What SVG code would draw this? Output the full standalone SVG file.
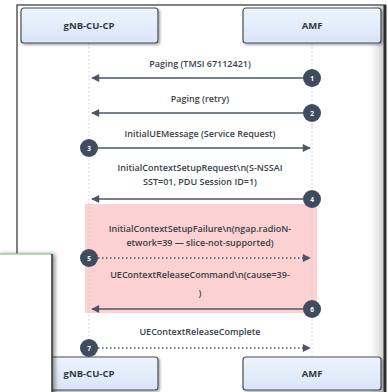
<svg xmlns="http://www.w3.org/2000/svg" width="388" height="392" viewBox="0 0 388 392">
<defs>
<linearGradient id="boxg" x1="0" y1="0" x2="0" y2="1">
<stop offset="0" stop-color="#eef4fd"/>
<stop offset="1" stop-color="#d8e5f8"/>
</linearGradient>
<linearGradient id="rshade" x1="0" y1="0" x2="1" y2="0">
<stop offset="0" stop-color="#ffffff" stop-opacity="0"/>
<stop offset="1" stop-color="#bdbdbd" stop-opacity="0.8"/>
</linearGradient>
<filter id="sh" x="-10%" y="-10%" width="130%" height="130%">
<feDropShadow dx="1.5" dy="1.5" stdDeviation="1.2" flood-color="#000" flood-opacity="0.35"/>
</filter>
<filter id="sh2" x="-20%" y="-10%" width="150%" height="130%">
<feDropShadow dx="3" dy="0" stdDeviation="2" flood-color="#000" flood-opacity="0.45"/>
</filter>
<marker id="ah" viewBox="0 0 10 10" refX="9" refY="5" markerWidth="9" markerHeight="8" markerUnits="userSpaceOnUse" orient="auto">
<path d="M0,0 L10,5 L0,10 z" fill="#4b5568"/>
</marker>
<style>
.frame{fill:#ffffff;stroke:#5a5a5a;stroke-width:1.5}
.pbox{fill:url(#boxg);stroke:#4a4f57;stroke-width:1.2}
.ptext{font-family:"Open Sans","Noto Sans",sans-serif;font-size:9.5px;font-weight:700;fill:#333a44;text-anchor:middle}
.life{stroke:#cfcfcf;stroke-width:1;stroke-dasharray:1.5 2.5}
.msg{stroke:#4b5568;stroke-width:1.6;fill:none}
.dash{stroke:#4b5568;stroke-width:1.6;stroke-dasharray:1.5 2.5;fill:none}
.lbl{font-family:"Open Sans","Noto Sans",sans-serif;font-size:9px;font-weight:600;fill:#3a3f48;text-anchor:middle}
.num{fill:#3f4b5e}
.numt{font-family:"Open Sans","Noto Sans",sans-serif;font-size:6.5px;font-weight:700;fill:#ffffff;text-anchor:middle}
</style>
</defs>
<rect x="0" y="0" width="388" height="392" fill="#ffffff"/>
<g id="frame">
<rect class="frame" x="17" y="5" width="368" height="400"/>
<rect x="366" y="6" width="18" height="392" fill="url(#rshade)"/>
<line x1="385" y1="5" x2="385" y2="392" stroke="#2e2e2e" stroke-width="3"/>
</g>
<g id="region">
<rect x="85" y="204" width="232" height="109" fill="#fbd1d1"/>
</g>
<g id="lifelines">
<line class="life" x1="89" y1="43" x2="89" y2="357"/>
<line class="life" x1="312" y1="43" x2="312" y2="357"/>
</g>
<g id="gnb-top">
<rect class="pbox" x="21" y="8" width="137" height="35" rx="3" filter="url(#sh)"/>
<text class="ptext" x="89" y="29">gNB-CU-CP</text>
</g>
<g id="amf-top">
<rect class="pbox" x="243" y="8" width="138" height="35" rx="3" filter="url(#sh)"/>
<text class="ptext" x="312" y="29">AMF</text>
</g>
<g id="gnb-bottom">
<rect class="pbox" x="21" y="357" width="137" height="33" rx="3" filter="url(#sh)"/>
<text class="ptext" x="89" y="377">gNB-CU-CP</text>
</g>
<g id="amf-bottom">
<rect class="pbox" x="243" y="357" width="138" height="33" rx="3" filter="url(#sh)"/>
<text class="ptext" x="312" y="377">AMF</text>
</g>
<g id="connectors">
<line class="msg" x1="303" y1="78" x2="92" y2="78" marker-end="url(#ah)"/>
<line class="msg" x1="303" y1="113" x2="92" y2="113" marker-end="url(#ah)"/>
<line class="msg" x1="98" y1="148" x2="310" y2="148" marker-end="url(#ah)"/>
<line class="msg" x1="303" y1="199" x2="92" y2="199" marker-end="url(#ah)"/>
<line class="dash" x1="98" y1="258" x2="310" y2="258" marker-end="url(#ah)"/>
<line class="msg" x1="303" y1="309" x2="92" y2="309" marker-end="url(#ah)"/>
<line class="dash" x1="98" y1="348" x2="310" y2="348" marker-end="url(#ah)"/>
</g>
<g id="labels">
<text class="lbl" x="200" y="67">Paging (TMSI 67112421)</text>
<text class="lbl" x="200" y="102">Paging (retry)</text>
<text class="lbl" x="200" y="137">InitialUEMessage (Service Request)</text>
<text class="lbl" x="200" y="171">InitialContextSetupRequest\n(S-NSSAI</text>
<text class="lbl" x="200" y="185">SST=01, PDU Session ID=1)</text>
<text class="lbl" x="200" y="232">InitialContextSetupFailure\n(ngap.radioN-</text>
<text class="lbl" x="200" y="246">etwork=39 — slice-not-supported)</text>
<text class="lbl" x="200" y="278">UEContextReleaseCommand\n(cause=39-</text>
<text class="lbl" x="200" y="296">)</text>
<text class="lbl" x="200" y="335">UEContextReleaseComplete</text>
</g>
<g id="markers">
<circle class="num" cx="312" cy="78" r="9"/><text class="numt" x="312" y="80.5">1</text>
<circle class="num" cx="312" cy="113" r="9"/><text class="numt" x="312" y="115.5">2</text>
<circle class="num" cx="89" cy="148" r="9"/><text class="numt" x="89" y="150.5">3</text>
<circle class="num" cx="312" cy="199" r="9"/><text class="numt" x="312" y="201.5">4</text>
<circle class="num" cx="89" cy="258" r="9"/><text class="numt" x="89" y="260.5">5</text>
<circle class="num" cx="312" cy="309" r="9"/><text class="numt" x="312" y="311.5">6</text>
<circle class="num" cx="89" cy="348" r="9"/><text class="numt" x="89" y="350.5">7</text>
</g>
<g id="overlay">
<rect x="-3" y="254" width="55" height="142" fill="#ffffff" filter="url(#sh2)"/>
<line x1="0" y1="254" x2="52" y2="254" stroke="#9ad59a" stroke-width="1.5"/>
<line x1="52" y1="254" x2="52" y2="392" stroke="#2f3a33" stroke-width="1.5"/>
</g>
</svg>
